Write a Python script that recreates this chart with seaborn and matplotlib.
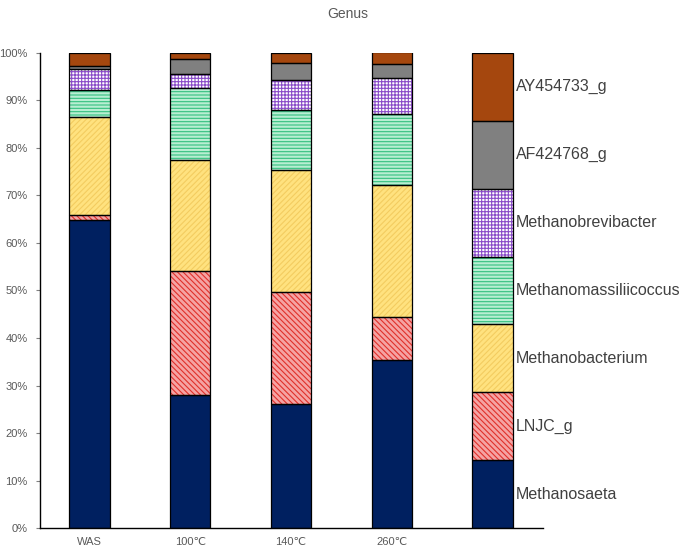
import matplotlib
matplotlib.use('Agg')

import matplotlib.pyplot as plt
import seaborn as sns
import numpy as np
from matplotlib.patches import Rectangle
from matplotlib.ticker import PercentFormatter, MultipleLocator

# samples (the last, unlabeled column is the in-plot legend bar)
samples = ['WAS', '100\u2103', '140\u2103', '260\u2103', ' ']

genera = ['Methanosaeta', 'LNJC_g', 'Methanobacterium',
          'Methanomassiliicoccus', 'Methanobrevibacter',
          'AF424768_g', 'AY454733_g']

# relative abundance (%) per genus, one value per sample (legend bar = 1/7)
legend_share = 100 / 7
methanosaeta = [64.8, 27.9, 26.1, 35.4, legend_share]
lnjc_g = [1.1, 26.1, 23.5, 9.1, legend_share]
methanobacterium = [20.6, 23.5, 25.8, 27.6, legend_share]
methanomassiliicoccus = [5.7, 15.1, 12.5, 15.1, legend_share]
methanobrevibacter = [4.4, 3.0, 6.5, 7.6, legend_share]
af424768_g = [0.7, 3.1, 3.4, 2.8, legend_share]
ay454733_g = [2.7, 1.3, 2.2, 2.6, legend_share]

layers = [methanosaeta, lnjc_g, methanobacterium, methanomassiliicoccus,
          methanobrevibacter, af424768_g, ay454733_g]

# (facecolor, hatch, hatch colour)
styles = [
    ('#002060', None, '#002060'),
    ('#F5A3A3', '\\\\\\\\\\\\', '#E0302A'),
    ('#FFE27F', '//////', '#F3CC60'),
    ('#B8EED2', '-----', '#34C080'),
    ('#FFFFFF', '+++++', '#8A4CC8'),
    ('#808080', None, '#808080'),
    ('#A5470E', None, '#A5470E'),
]

sns.set_style('white')
plt.rcParams['font.family'] = ['Liberation Sans', 'DejaVu Sans']
plt.rcParams['hatch.linewidth'] = 0.8

fig = plt.figure(figsize=(6.95, 5.55), dpi=100)
ax = fig.add_axes([0.0576, 0.0486, 0.7235, 0.856])

bottom = np.zeros(len(samples))
for vals, (fc, hatch, hc) in zip(layers, styles):
    frac = np.array(vals) / 100
    sns.barplot(x=samples, y=frac, bottom=bottom, color=fc, width=0.4,
                errorbar=None, hatch=hatch, edgecolor=hc, linewidth=0,
                saturation=1, ax=ax)
    bottom = bottom + frac

# black outlines on every segment
for p in list(ax.patches):
    ax.add_patch(Rectangle(p.get_xy(), p.get_width(), p.get_height(),
                           fill=False, edgecolor='black', linewidth=0.9))

# labels next to the legend bar
cum = np.cumsum([v[-1] for v in layers]) / 100
mids = cum - np.array([v[-1] for v in layers]) / 200
for name, y in zip(genera, mids):
    ax.text(4.23, y, name, ha='left', va='center', fontsize=11.5,
            color='#404040')

ax.set_xlim(-0.49, 4.5)
ax.set_ylim(0, 1)
ax.yaxis.set_major_locator(MultipleLocator(0.1))
ax.yaxis.set_major_formatter(PercentFormatter(1.0, decimals=0))
ax.tick_params(axis='y', left=True, length=3, width=0.8, color='#808080',
               labelsize=8, labelcolor='#595959', pad=6)
ax.tick_params(axis='x', bottom=False, labelsize=8, labelcolor='#595959',
               pad=3)
for s in ['top', 'right']:
    ax.spines[s].set_visible(False)
for s in ['left', 'bottom']:
    ax.spines[s].set_color('black')
    ax.spines[s].set_linewidth(1.0)

fig.text(0.5, 0.975, 'Genus', ha='center', va='center', fontsize=10,
         color='#595959')

fig.savefig('out.png', dpi=100)
